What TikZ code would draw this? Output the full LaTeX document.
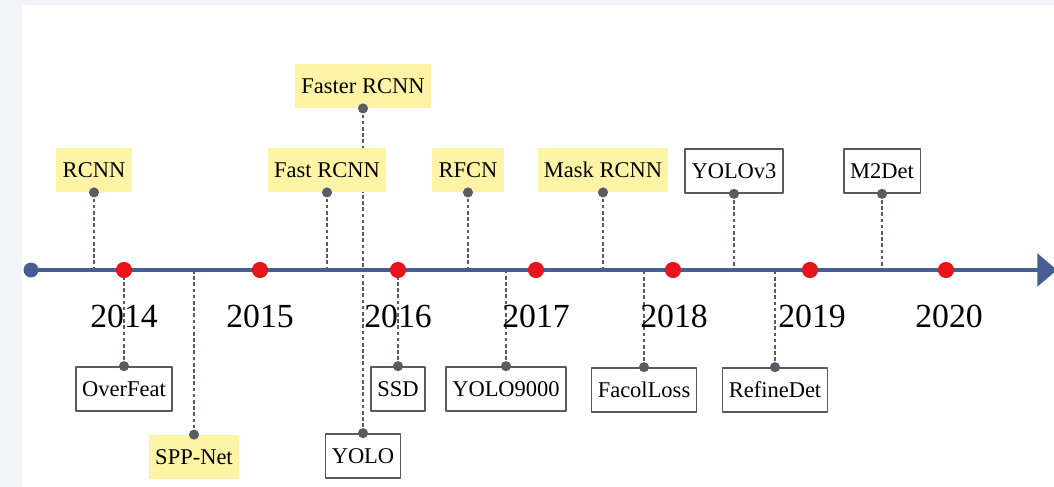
\documentclass[tikz,border=0pt]{standalone}
\usepackage{fontspec}
\setmainfont{LiberationSerif}[
    Extension=.ttf,
    UprightFont=*-Regular,
    BoldFont=*-Bold
]
\usetikzlibrary{arrows.meta,positioning,calc}

\definecolor{axisblue}{HTML}{465E92}
\definecolor{hlyellow}{HTML}{FFF4A6}
\definecolor{pingray}{HTML}{585C66}
\definecolor{boxgray}{HTML}{5A5A5A}
\definecolor{yearred}{HTML}{E8141C}
\definecolor{sidebg}{HTML}{F1F4F8}

\begin{document}
\begin{tikzpicture}[
    x=0.025cm,
    y=-0.025cm,
    line cap=round,
    line join=round,
    axisline/.style={-{Triangle[length=14pt,width=23pt]},line width=3.4pt,axisblue},
    lead/.style={line width=1.1pt,pingray,dash pattern=on 2.6pt off 1.8pt,line cap=butt},
    pin/.style={fill=pingray},
    yeardot/.style={circle,fill=yearred,inner sep=0pt,minimum size=11.5pt},
    year/.style={font=\fontsize{24}{26}\selectfont,text=black},
    hl/.style={
        fill=hlyellow,
        inner xsep=4.5pt,
        inner ysep=2pt,
        minimum height=31.5pt,
        font=\fontsize{16}{18}\selectfont,
        text=black
    },
    plain/.style={
        draw=boxgray,
        line width=1pt,
        fill=white,
        inner xsep=4.5pt,
        inner ysep=2pt,
        minimum height=31.5pt,
        font=\fontsize{16}{18}\selectfont,
        text=black
    }
]

\useasboundingbox (0,0) rectangle (1054,487);
\fill[sidebg] (0,0) rectangle (1054,487);
\fill[white] (22,5) rectangle (1054,487);

\coordinate (axL) at (31,270);
\coordinate (axR) at (1057,270);

% Above the axis.
\node[hl] (rcnn) at (94,170) {RCNN};
\node[hl] (faster) at (363,86) {Faster RCNN};
\node[hl] (rfcn) at (468,170) {RFCN};
\node[hl] (mask) at (603,170) {Mask RCNN};
\node[plain] (yolov3) at (734,171) {YOLOv3};
\node[plain] (m2det) at (882,171) {M2Det};

% Below the axis.
\node[plain] (overfeat) at (124,389) {OverFeat};
\node[hl] (spp) at (194,457) {SPP-Net};
\node[plain] (yolo) at (363,456) {YOLO};
\node[plain] (ssd) at (398,389) {SSD};
\node[plain] (yolo9000) at (506,389) {YOLO9000};
\node[plain] (focal) at (644,390) {FacolLoss};
\node[plain] (refine) at (775,390) {RefineDet};

% Leads to the axis.
\draw[lead] (rcnn.south) -- (rcnn.south |- axL);
\draw[lead] (faster.south) -- (faster.south |- axL);
\draw[lead] (rfcn.south) -- (rfcn.south |- axL);
\draw[lead] (mask.south) -- (mask.south |- axL);
\draw[lead] (yolov3.south) -- (yolov3.south |- axL);
\draw[lead] (m2det.south) -- (m2det.south |- axL);
\draw[lead] (overfeat.north) -- (overfeat.north |- axL);
\draw[lead] (spp.north) -- (spp.north |- axL);
\draw[lead] (yolo.north) -- (yolo.north |- axL);
\draw[lead] (ssd.north) -- (ssd.north |- axL);
\draw[lead] (yolo9000.north) -- (yolo9000.north |- axL);
\draw[lead] (focal.north) -- (focal.north |- axL);
\draw[lead] (refine.north) -- (refine.north |- axL);

\node[hl] (fast) at (327,170) {Fast RCNN};
\draw[lead] (fast.south) -- (fast.south |- axL);

\fill[pin] (rcnn.south) circle (3.6pt);
\fill[pin] (fast.south) circle (3.6pt);
\fill[pin] (faster.south) circle (3.6pt);
\fill[pin] (rfcn.south) circle (3.6pt);
\fill[pin] (mask.south) circle (3.6pt);
\fill[pin] (yolov3.south) circle (3.6pt);
\fill[pin] (m2det.south) circle (3.6pt);
\fill[pin] (overfeat.north) circle (3.6pt);
\fill[pin] (spp.north) circle (3.6pt);
\fill[pin] (yolo.north) circle (3.6pt);
\fill[pin] (ssd.north) circle (3.6pt);
\fill[pin] (yolo9000.north) circle (3.6pt);
\fill[pin] (focal.north) circle (3.6pt);
\fill[pin] (refine.north) circle (3.6pt);

% Axis.
\draw[axisline] (axL) -- (axR);
\fill[axisblue] (axL) circle (5.3pt);

\node[yeardot] (d2014) at (124,270) {};
\node[yeardot] (d2015) at (260,270) {};
\node[yeardot] (d2016) at (398,270) {};
\node[yeardot] (d2017) at (536,270) {};
\node[yeardot] (d2018) at (673,270) {};
\node[yeardot] (d2019) at (810,270) {};
\node[yeardot] (d2020) at (946,270) {};

\node[year] (y2014) at (124,316) {2014};
\node[year] (y2015) at (260,316) {2015};
\node[year] (y2016) at (398,316) {2016};
\node[year] (y2017) at (536,316) {2017};
\node[year] (y2018) at (674,316) {2018};
\node[year] (y2019) at (812,316) {2019};
\node[year] (y2020) at (949,316) {2020};

\end{tikzpicture}
\end{document}
